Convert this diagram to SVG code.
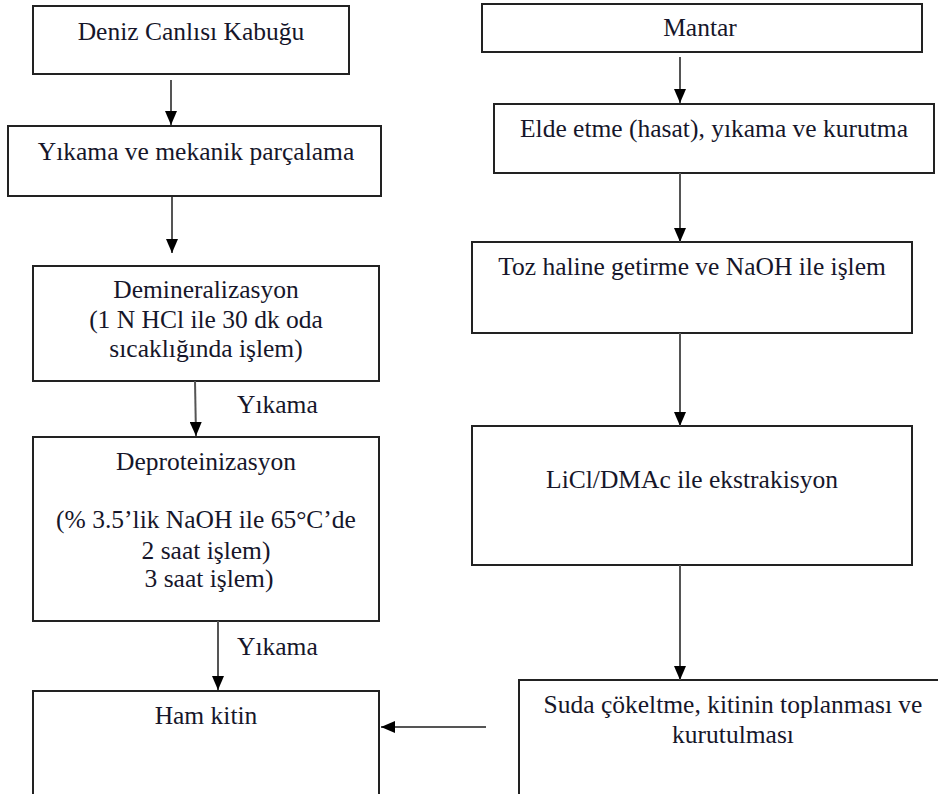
<svg xmlns="http://www.w3.org/2000/svg" width="938" height="794" viewBox="0 0 938 794">
  <style>
    .box { fill: #ffffff; stroke: #222222; stroke-width: 2; }
    .lbl { font-family: "Liberation Serif", "Times New Roman", serif; font-size: 25.5px; fill: #16162a; text-anchor: middle; }
    .side { font-family: "Liberation Serif", "Times New Roman", serif; font-size: 25.5px; fill: #16162a; }
    .link { fill: none; stroke: #555555; stroke-width: 2; marker-end: url(#head); }
  </style>
  <defs>
    <marker id="head" viewBox="0 0 14 12" refX="14" refY="6" markerWidth="14" markerHeight="12" markerUnits="userSpaceOnUse" orient="auto">
      <path d="M0,0 L14,6 L0,12 z" fill="#000000"/>
    </marker>
  </defs>
  <rect width="938" height="794" fill="#ffffff"/>

  <!-- left column: shell source -->
  <g id="kabuk">
    <rect class="box" x="33" y="6" width="316" height="68"/>
    <text class="lbl" x="191" y="40">Deniz Canlısı Kabuğu</text>
  </g>
  <g id="yikama-parcalama">
    <rect class="box" x="8" y="126" width="373" height="70"/>
    <text class="lbl" x="196" y="160">Yıkama ve mekanik parçalama</text>
  </g>
  <g id="demineralizasyon">
    <rect class="box" x="33" y="266" width="346" height="115"/>
    <text class="lbl" x="206" y="298">Demineralizasyon</text>
    <text class="lbl" x="206" y="328">(1 N HCl ile 30 dk oda</text>
    <text class="lbl" x="206" y="357">sıcaklığında işlem)</text>
  </g>
  <g id="deproteinizasyon">
    <rect class="box" x="33" y="437" width="346" height="184"/>
    <text class="lbl" x="206" y="470">Deproteinizasyon</text>
    <text class="lbl" x="206" y="528">(% 3.5’lik NaOH ile 65°C’de</text>
    <text class="lbl" x="206" y="559">2 saat işlem)</text>
    <text class="lbl" x="209" y="587">3 saat işlem)</text>
  </g>
  <g id="ham-kitin">
    <rect class="box" x="33" y="691" width="346" height="130"/>
    <text class="lbl" x="206" y="724">Ham kitin</text>
  </g>

  <!-- right column: fungal source -->
  <g id="mantar">
    <rect class="box" x="482" y="4" width="440" height="48"/>
    <text class="lbl" x="700" y="36">Mantar</text>
  </g>
  <g id="elde-etme">
    <rect class="box" x="494" y="104" width="440" height="69"/>
    <text class="lbl" x="714" y="137">Elde etme (hasat), yıkama ve kurutma</text>
  </g>
  <g id="toz-haline">
    <rect class="box" x="472" y="242" width="440" height="91"/>
    <text class="lbl" x="692" y="275">Toz haline getirme ve NaOH ile işlem</text>
  </g>
  <g id="ekstraksiyon">
    <rect class="box" x="472" y="426" width="440" height="139"/>
    <text class="lbl" x="692" y="488">LiCl/DMAc ile ekstrakisyon</text>
  </g>
  <g id="cokeltme">
    <rect class="box" x="519" y="680" width="440" height="140"/>
    <text class="lbl" x="733" y="713">Suda çökeltme, kitinin toplanması ve</text>
    <text class="lbl" x="733" y="743">kurutulması</text>
  </g>

  <!-- connectors -->
  <g id="connectors">
    <line class="link" x1="171" y1="80" x2="171" y2="125"/>
    <line class="link" x1="172" y1="197" x2="172" y2="253"/>
    <line class="link" x1="195" y1="381" x2="196" y2="436"/>
    <line class="link" x1="218" y1="621" x2="218" y2="690"/>
    <line class="link" x1="486" y1="727" x2="381" y2="727"/>
    <line class="link" x1="680" y1="57" x2="680" y2="103"/>
    <line class="link" x1="680" y1="173" x2="680" y2="242"/>
    <line class="link" x1="680" y1="333" x2="680" y2="426"/>
    <line class="link" x1="680" y1="565" x2="680" y2="680"/>
    <text class="side" x="237" y="413">Yıkama</text>
    <text class="side" x="237" y="655">Yıkama</text>
  </g>
</svg>
